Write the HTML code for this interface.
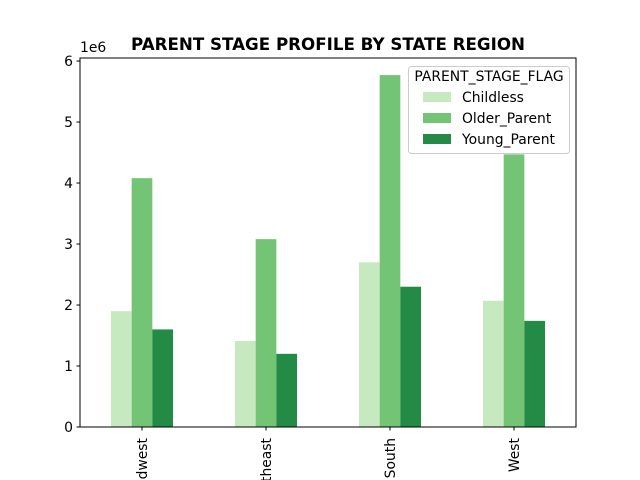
<!DOCTYPE html>
<html><head><meta charset="utf-8"><style>html,body{margin:0;background:#fff;width:640px;height:480px;overflow:hidden}svg{display:block;overflow:hidden;font-family:"DejaVu Sans","Liberation Sans",sans-serif}</style></head>
<body>
<svg id="c" width="640" height="480"></svg>
<script>
const categories = ["Midwest","Northeast","South","West"];
const seriesNames = ["Childless","Older_Parent","Young_Parent"];
const childless = [1.90,1.41,2.70,2.07];
const olderParent = [4.08,3.08,5.77,4.47];
const youngParent = [1.60,1.20,2.30,1.74];
const yTicks = [0,1,2,3,4,5,6];
const colors = ["#c7e9c0","#74c476","#238b45"];
const series = [childless, olderParent, youngParent];
const NS="http://www.w3.org/2000/svg", svg=document.getElementById('c');
const L=80,R=576,T=58,B=427, yMax=6.05;
const y=v=>B-(v/yMax)*(B-T);
const step=(R-L)/categories.length;
const xc=i=>L+step*(i+0.5);
const bw=step/6;
function mk(tag,attrs,parent){const e=document.createElementNS(NS,tag);for(const k in attrs)e.setAttribute(k,attrs[k]);(parent||svg).appendChild(e);return e;}
series.forEach((vals,s)=>{vals.forEach((v,i)=>{
  const r=mk('rect',{x:xc(i)+(s-1.5)*bw,y:y(v),width:bw,height:B-y(v),fill:colors[s]});
  
  
});});
const ax=mk('rect',{x:L,y:T,width:R-L,height:B-T,fill:'none',stroke:'#000','stroke-width':1});


yTicks.forEach(t=>{
  mk('line',{x1:L-3.5,x2:L,y1:y(t),y2:y(t),stroke:'#000'});
  const tx=mk('text',{x:L-7,y:y(t)+5,'text-anchor':'end','font-size':13.9});tx.textContent=t;
  
  
});
const clip=mk('clipPath',{id:'frameclip'});
mk('rect',{x:0,y:0,width:640,height:480},clip);
const xl=mk('g',{'clip-path':'url(#frameclip)'});
categories.forEach((c,i)=>{
  mk('line',{x1:xc(i),x2:xc(i),y1:B,y2:B+3.5,stroke:'#000'});
  const tx=mk('text',{x:0,y:0,'text-anchor':'end','font-size':13.9,transform:`translate(${xc(i)+5},${B+11}) rotate(-90)`},xl);tx.textContent=c;
  
  
});
const ex=mk('text',{x:L,y:T-6,'font-size':13.9});ex.textContent='1e6';


const ti=mk('text',{x:(L+R)/2,y:T-8,'text-anchor':'middle','font-size':16.7,'font-weight':'bold'});ti.textContent='PARENT STAGE PROFILE BY STATE REGION';


const g=mk('g',{});


mk('rect',{x:408.5,y:66.5,width:161,height:87,rx:3,fill:'#fff','fill-opacity':0.8,stroke:'#ccc'},g);
const lt=mk('text',{x:489,y:81,'text-anchor':'middle','font-size':13.9},g);lt.textContent='PARENT_STAGE_FLAG';
seriesNames.forEach((n,s)=>{
  const yy=97+s*21;
  mk('rect',{x:423,y:yy-5,width:28,height:10,fill:colors[s]},g);
  const t=mk('text',{x:462,y:yy+5,'font-size':13.9},g);t.textContent=n;
  
  
});
</script>
</body></html>
